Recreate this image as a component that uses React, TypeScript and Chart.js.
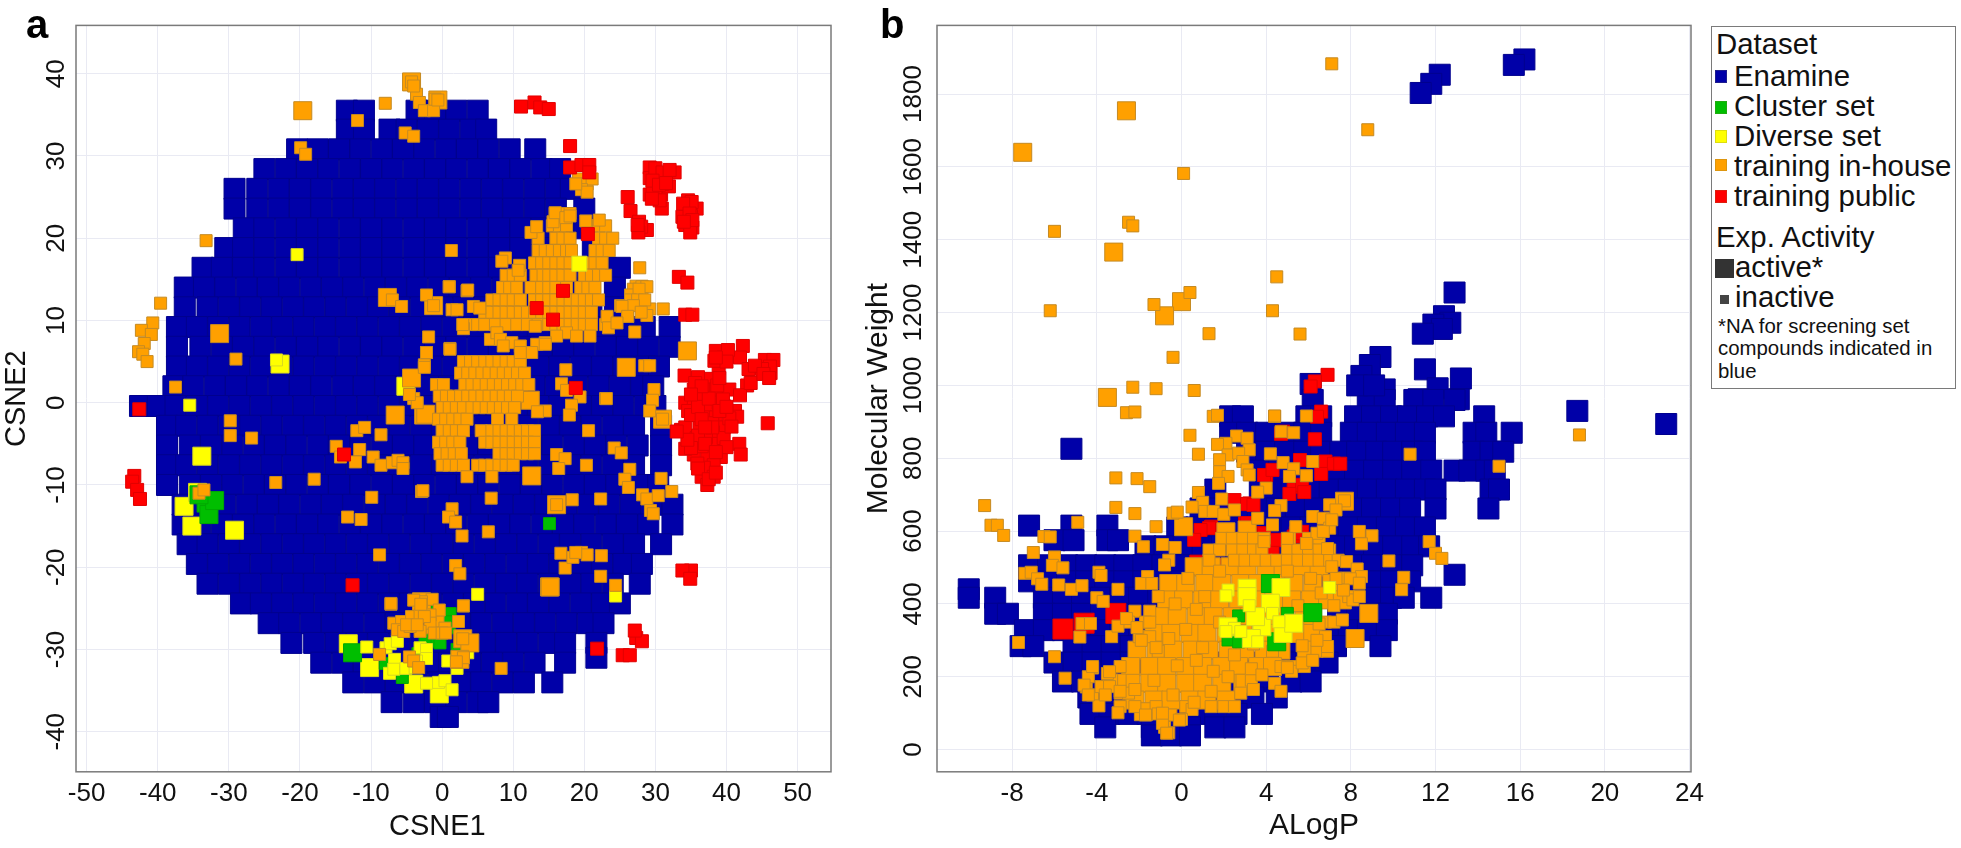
import React, { useEffect, useRef } from "react";
import { Chart, registerables } from "chart.js";
Chart.register(...registerables);

const FONT = '"Liberation Sans", Arial, sans-serif';
const BLUE = "#0000A8", GREEN = "#00BE00", YELLOW = "#FFFF00", ORANGE = "#FFA000", RED = "#FF0000";
const SIDE_ENAMINE = 21, SIDE_SMALL = 12, SIDE_LARGE = 18;

const aXTicks = [-50, -40, -30, -20, -10, 0, 10, 20, 30, 40, 50];
const aYTicks = [-40, -30, -20, -10, 0, 10, 20, 30, 40];
const bXTicks = [-8, -4, 0, 4, 8, 12, 16, 20, 24];
const bYTicks = [0, 200, 400, 600, 800, 1000, 1200, 1400, 1600, 1800];

// Each row: CSNE2 value, then the CSNE1 values read along it
const aEnamineRows = [
  [35.5, -13.4, -11, -3.6, -1, 2, 5],
  [33.2, -13.4, -11, -7.4, -5, -2, 1, 4, 6.2],
  [30.8, -20.4, -17.5, -14.5, -11.5, -8.5, -5.5, -2.5, 0.5, 3.5, 6.5, 9.5, 13.1],
  [28.4, -25, -22, -19, -16, -13, -10, -7, -4, -1, 2, 5, 8, 11, 14, 16.6],
  [26, -29.2, -26, -23, -20, -17, -14, -11, -8, -5, -2, 1, 4, 7, 10, 13, 16, 18.1],
  [23.6, -29.2, -26, -23, -20, -17, -14, -11, -8, -5, -2, 1, 4, 7, 10, 13, 16, 20],
  [21.2, -27.9, -25, -22, -19, -16, -13, -10, -7, -4, -1, 2, 5, 8, 11, 14, 17, 20],
  [18.8, -30.5, -28, -25, -22, -19, -16, -13, -10, -7, -4, -1, 2, 5, 8, 11, 14, 17, 21.2],
  [16.4, -33.7, -31, -28, -25, -22, -19, -16, -13, -10, -7, -4, -1, 2, 5, 8, 11, 14, 17, 20, 23, 25],
  [14, -36.2, -33.5, -30.5, -27.5, -24.5, -21.5, -18.5, -15.5, -12.5, -9.5, -6.5, -3.5, -0.5, 2.5, 5.5, 8.5, 11.5, 14.5, 17.5, 20.5, 24.3],
  [11.6, -36.2, -33, -30, -27, -24, -21, -18, -15, -12, -9, -6, -3, 0, 3, 6, 9, 12, 15, 18, 21, 24.3],
  [9.2, -37.3, -34.5, -31.5, -28.5, -25.5, -22.5, -19.5, -16.5, -13.5, -10.5, -7.5, -4.5, -1.5, 1.5, 4.5, 7.5, 10.5, 13.5, 16.5, 19.5, 22.5, 25.5, 28.5, 32],
  [6.8, -37.3, -34, -31, -28, -25, -22, -19, -16, -13, -10, -7, -4, -1, 2, 5, 8, 11, 14, 17, 20, 23, 26, 29, 32],
  [4.4, -37.3, -34.5, -31.5, -28.5, -25.5, -22.5, -19.5, -16.5, -13.5, -10.5, -7.5, -4.5, -1.5, 1.5, 4.5, 7.5, 10.5, 13.5, 16.5, 19.5, 22.5, 25.5, 28.5, 30.5],
  [2, -37.8, -35, -32, -29, -26, -23, -20, -17, -14, -11, -8, -5, -2, 1, 4, 7, 10, 13, 16, 19, 22, 25, 28, 29.7],
  [-0.4, -42.5, -40, -37.5, -34.5, -31.5, -28.5, -25.5, -22.5, -19.5, -16.5, -13.5, -10.5, -7.5, -4.5, -1.5, 1.5, 4.5, 7.5, 10.5, 13.5, 16.5, 19.5, 22.5, 25.5, 28.5, 30],
  [-2.8, -38.7, -36, -33, -30, -27, -24, -21, -18, -15, -12, -9, -6, -3, 0, 3, 6, 9, 12, 15, 18, 21, 24, 27, 30.8],
  [-5.2, -38.7, -35.5, -32.5, -29.5, -26.5, -23.5, -20.5, -17.5, -14.5, -11.5, -8.5, -5.5, -2.5, 0.5, 3.5, 6.5, 9.5, 12.5, 15.5, 18.5, 21.5, 24.5, 27.5, 30.8],
  [-7.6, -38.7, -36, -33, -30, -27, -24, -21, -18, -15, -12, -9, -6, -3, 0, 3, 6, 9, 12, 15, 18, 21, 24, 27, 30.8],
  [-10, -38.7, -35.5, -32.5, -29.5, -26.5, -23.5, -20.5, -17.5, -14.5, -11.5, -8.5, -5.5, -2.5, 0.5, 3.5, 6.5, 9.5, 12.5, 15.5, 18.5, 21.5, 24.5, 27.5, 30.4],
  [-12.4, -36.5, -33.5, -30.5, -27.5, -24.5, -21.5, -18.5, -15.5, -12.5, -9.5, -6.5, -3.5, -0.5, 2.5, 5.5, 8.5, 11.5, 14.5, 17.5, 20.5, 23.5, 26.5, 29.5, 32.4],
  [-14.8, -36.5, -34, -31, -28, -25, -22, -19, -16, -13, -10, -7, -4, -1, 2, 5, 8, 11, 14, 17, 20, 23, 26, 29, 32.4],
  [-17.2, -35.8, -33, -30, -27, -24, -21, -18, -15, -12, -9, -6, -3, 0, 3, 6, 9, 12, 15, 18, 21, 24, 27, 30.8],
  [-19.6, -34.5, -31.5, -28.5, -25.5, -22.5, -19.5, -16.5, -13.5, -10.5, -7.5, -4.5, -1.5, 1.5, 4.5, 7.5, 10.5, 13.5, 16.5, 19.5, 22.5, 25.5, 28.1],
  [-22, -33, -30, -27, -24, -21, -18, -15, -12, -9, -6, -3, 0, 3, 6, 9, 12, 15, 18, 21, 24, 27.8],
  [-24.4, -28.3, -25.5, -22.5, -19.5, -16.5, -13.5, -10.5, -7.5, -4.5, -1.5, 1.5, 4.5, 7.5, 10.5, 13.5, 16.5, 19.5, 22.5, 25],
  [-26.8, -24.4, -21.5, -18.5, -15.5, -12.5, -9.5, -6.5, -3.5, -0.5, 2.5, 5.5, 8.5, 11.5, 14.5, 17.5, 20.5, 22.7],
  [-29.2, -21.2, -18, -15, -12, -9, -6, -3, 0, 3, 6, 9, 12, 15, 17.3, 21.7],
  [-31, 21.7],
  [-31.6, -17, -14, -11, -8, -5, -2, 1, 4, 7, 10, 13, 17.3],
  [-34, -12.5, -9.5, -6.5, -3.5, -0.5, 2.5, 5.5, 8.5, 11.5, 15.5],
  [-36.4, -7.1, -4, -1, 2, 5, 6.5],
  [-38.2, -0.2, 0.8],
];

const aInHouseSmall = [
  -8, 36.4, -5.2, 32.8, -4, 32.4, -11.9, 34.3, -19.9, 31, -19.2, 30.2, -33.2, 19.7, -39.6, 12.1,
  -40.7, 9.7, -42.3, 8.8, -40.9, 8.3, -41.9, 7.2, -42.7, 6.2, -42.1, 5.9, -41.5, 5, -29, 5.3,
  -37.5, 1.9, -29.8, -2.2, -29.8, -4, -26.8, -4.3, -23.4, -9.7, -18, -9.3, -9.9, -11.5, -2.9, -10.8,
  -13.3, -13.9, -11.4, -14.2, -8.8, -18.5, -7.2, -24.5, 1, 14.1, 3.5, 13.6, -7, 12.5, -5.7, 11.7,
  -1.9, 8, -2.2, 6.1, -2.5, 4.6, 1.1, 6.6, -2.2, 13.1, -1.2, 11.8, 28.5, 4.5, 29.2, 4.5, 27.1, 8.6,
  27.8, 16.4, 23, 0.5, -3.6, 37.5, -3.2, 36.5, -2.5, 35.5, -1.2, 35.5, -1, 36.9, -4.3, 39, -4, 38.5,
  -0.6, 36.8, 19.2, 27.2, 20.4, 26.6, 21.1, 27.2, 19.6, 25.9, 20.4, 25.6, 18.8, 26.6,
  26.9, 13.8, 28.1, 14.1, 27.7, 13.1, 28.5, 11.1, 29.2, 11.4, 31.1, 11.4, 26.5, 13.1, 28.8, 14.1,
  25.1, 11.8, 26.1, 10.5, 28.8, 10.6, 27.7, 13.8, 26.5, 12.5, 27.5, 12.5, 28.5, 12.5, 26.9, 11.8, 28, 11,
  29.8, 1.6, 29.6, 0.3, 29.2, -1, 31, -2, -4, 0.5, -3.5, 0, -4.6, 1,
  -14.9, -5.3, -14.3, -6.6, -12, -3.4, -10.9, -3, -11.6, -5.7, -9.7, -6.6, -8.6, -7.6, -7, -7.3,
  -6.2, -7, -5.5, -7.3, -5.5, -8, -8.6, -3.9, -12.2, -7.2, -34.2, -11, -33.5, -10.6,
  12.5, 20.7, 13.3, 21.4, 15.6, 22, 15.9, 23.1, 17.4, 22.5, 18, 22.7, 20.2, 22.1, 22.1, 22.2,
  8.9, 17.6, 8.4, 17.2, 10.9, 16.7, 10.7, 16.1, 1.3, 18.5,
  1.4, 11.3, 2.1, 11.3, 4.4, 11.7, 5.3, 11.5, 3, 9, 2.9, 9.5, 1, 14.1, 3.6, 13.7, 25.3, 11.7, 26.1, 10.5,
  23.2, 10.5, 23.4, 9.1, 24.6, 9.7, 6.8, 7.7, 7.7, 8.5, 8.2, 7.7, 9.8, 7.3, 11, 6.9, 8.6, 6.9, 13.1, 9.3,
  17.5, 8.5, 20.8, 8.1, 18.9, 8.1, 16.1, 8.1, 14.5, 7.3, 13.3, 7.1,
  -2.2, 6.1, 1.1, 6.5, -2.5, 4.3, 14.5, 7.1, 12.6, 6.1, 11, 6.1,
  14.5, -1, 13.4, -1.1, 17.4, 4, 16.8, 2.3, 17.5, 1.5, 19.4, 0.7, 18.2, -0.3, 17.9, -1.5, 23.1, 0.5, 20.6, -3.4, 24.2, -5.5, 25.2, -6.1,
  16.1, -6.3, 17.3, -6.8, 16.4, -8, 20.3, -7.6, 26.4, -8.1, 25.7, -9.3, 26.2, -10.3, 30.8, -9.2, 28.2, -11.2, 28.8, -11.7,
  30.4, -11.3, 29.3, -13.1, 29.7, -13.5, 32.3, -10.8, 18.3, -11.8, 22.3, -11.7, 1.4, -12.9, 0.9, -13.9, 1.9, -14.5,
  -2.7, -10.7, 6.9, -11.6, 2.8, -16.2, 6.5, -15.7, 16.7, -18.3, 17.3, -20.1, 18.4, -18.8, 19.6, -18.2, 20.4, -18.5, 18.8, -18.2,
  22.4, -18.6, 22.3, -21.1, 24.4, -22.2, 1.9, -19.8, 2.5, -20.8, 3, -24.7, 8.3, -32.3, 16.1, -12.4,
  -7.2, -24.4, -1.4, -23.9, -0.4, -25.2, 3, -24.7, 2.3, -26.6, -6.8, -26.8, -5.7, -26.6, -6.3, -27.6, -4.3, -26, -3.1, -25.8,
  -1.7, -25.8, -1.7, -26.8, -3.1, -27.8, -1.1, -28, 0.4, -27.4, -5.4, -27.8, -4.5, -27.2, -8.8, -30.6, -4.6, -30.9, -4, -31.4,
  -3.3, -32.2, -2.9, -24.2, 2.9, -28.7, -4, -24, -3, -24.5, -2.5, -26, -5, -27, -3.5, -27, 0, -28, 0.5, -28, 3, -31, 2, -31.5,
];
// Packed parts of the in-house clusters, read row by row: CSNE2, then CSNE1 values
const aInHouseDenseRows = [
  [23, 15.9, 17.4, 18],
  [21.5, 15.5, 16.5, 17.5, 20.5, 21, 22, 23],
  [20, 13.5, 16, 17, 18, 22, 23, 24],
  [18.5, 13.5, 14.5, 15.5, 16.5, 17.5, 18.2, 21.5, 22.5, 23.5],
  [17, 13, 14, 15, 16, 17, 18, 20.5, 21.5, 22.5],
  [15.5, 9, 10, 11, 13.2, 14.2, 15, 16, 17, 18, 20, 21, 22, 23],
  [14, 8.5, 9.5, 10.5, 12.5, 14, 15, 16, 17.5, 19.5, 20.5, 21.5],
  [12.5, 7, 8, 9, 10, 11, 13, 14, 15, 16, 17, 18, 19, 20, 21, 22],
  [11, 6, 7, 8, 9, 10, 11, 12, 13, 14, 15, 16, 17, 18, 19, 20, 21],
  [9.5, 4, 5, 6, 7.5, 9, 10.5, 12, 13.5, 15, 16, 17, 18, 19, 20, 21, 23],
  [5, 3, 4, 5, 6, 7, 8, 9, 10, 11],
  [3.6, 2.6, 3.6, 4.6, 5.6, 6.6, 7.6, 8.6, 9.6, 10.6, 11.6],
  [2.2, -0.8, 0.2, 3.2, 4.2, 5.2, 6.2, 7.2, 8.2, 9.2, 10.2, 11.2, 12.2],
  [0.8, -0.4, 0.6, 1.6, 2.6, 3.6, 4.6, 5.6, 6.6, 7.6, 8.6, 9.6, 10.6],
  [-0.6, 0, 1, 2, 3, 4.2, 5.2, 6.2, 7.2, 8.2, 9.2, 10.2],
  [-2, -0.5, 0.5, 1.5, 2.5, 3.5, 7.8, 9.8],
  [-3.4, 0, 1, 2, 3, 5.5, 7, 8, 9, 10, 11, 12, 13],
  [-4.8, -0.5, 0.5, 1.5, 2.5, 6, 7, 8, 9, 10, 11, 12, 13],
  [-6.2, -0.3, 0.7, 1.7, 2.7, 8, 9, 10, 11, 12, 13],
  [-7.6, 0, 1, 2, 3, 5, 6, 7, 8, 9, 10],
  [-9, 3.5, 7],
];
const aInHouseLarge = [
  -19.6, 35.5, -31.3, 8.4, -7.7, 12.8, -1.2, 11.8, -4.3, 3, -6.6, -1.5, -2.6, -1.5, 25.9, 4.3, 34.5, 6.3,
  31, -2, 16.1, -12.4, 15.1, -22.4, 12.6, -8.9, 12.4, 0.3, -2.3, -1.4, -4.3, 39, -0.6, 36.8, 27.7, 13.8,
  -2.9, -24.2, 2.9, -28.7, 3.9, -29.2, 2.5, -31.2, -1, -27, 15.2, -22.4,
];
const aDiverseSmall = [
  -20.4, 18, -23.3, 5.2, -35.5, -0.3, 5, -23.3, -10.6, -29.7, -7.9, -29.8, -7.3, -29.3, -6.3, -29, -6.7, -31.2,
  -7.4, -32.9, -6.8, -32.4, -5.1, -32.3, -3.8, -32.2, -2.2, -34.1, -0.5, -34, 0.4, -33.8, 1.4, -34.9, 3.6, -30.4,
  0.8, -31.4, 2.1, -32.3, -3.1, -29.8, -2.2, -30, -2.2, -31.1, -3.6, -31.4, 24.4, -23.5,
];
const aDiverseLarge = [-22.8, 4.7, -33.8, -6.5, -36.3, -12.6, -35.2, -15, -29.2, -15.5, -34.4, -10.9, -13.2, -29.3, -10.2, -32.2, -4, -34.2, -0.4, -35.4, -5.1, 2];
const aDiverseOnTop = [19.3, 16.9];
const aClusterSmall = [15.1, -14.7, -8, -31.7, -5.6, -33.4, -3.4, -30.5, -1.2, -29, -0.3, -29.2, -2.4, -28.8, -1.7, -25.4, 2.1, -30];
const aClusterLarge = [-33.2, -12.2, -32.8, -13.6, -32, -11.9, -34.2, -11.2, -12.6, -30.4, 0.7, -26, 0.6, -27];
const aPublicSmall = [
  11.1, 36, 13, 36.5, 13.8, 35.9, 15, 35.7, 18, 31.2, 18, 28.6, 19.6, 28.9, 20.7, 28.9, 20.7, 28, 20.5, 20.5,
  29.2, 28.6, 29.2, 27.3, 30.4, 27.6, 31.5, 27.6, 32.7, 28, 29.2, 25.3, 30.8, 25.3, 31.9, 26.3, 30, 25.9, 30.9, 23.6,
  26.1, 25, 26.5, 23.3, 27.7, 22, 28.1, 21, 28.8, 21, 34.6, 24.6, 35.8, 23.6, 34.2, 23.3, 34.2, 21.6, 35.2, 21.3, 33.8, 22.6,
  33.3, 15.3, 34.5, 14.6, 34.2, 10.7, 35.2, 10.7, 38.5, 6.3, 39.6, 5.5, 38.9, 4.2, 42.3, 6.9, 41.9, 5.5, 43.1, 4.1,
  45.4, 5.2, 46.6, 5.2, 46.2, 3.6, 42.9, 2.1, 34.1, 3.3, 34.2, 0, 37.3, 2.9, 33.6, -3.3, 35.4, 1.6, 36.9, 1.6, 38.9, 0.9,
  40.4, 1.6, 41.9, 0.9, 41.2, -1, 41.5, -1.7, 35.4, 0, 36.9, -1, 38.5, -1.7, 39.6, -3, 38.1, -3.6, 36.2, -3, 34.2, -3,
  35.4, -6.3, 37.3, -6.6, 39.2, -6.6, 36.5, -9, 37.7, -8.3, 37.3, -10, 41.8, -5, 42, -6.3, 45.8, -2.5, 35.8, -4.3, 38.1, -5,
  34.2, -5.6, 36.5, -5.3, 39.6, -4.3, 38.5, 1.6, 39.6, -0.4, -43.3, -8.9, -43.6, -9.6, -42.9, -10.6, -42.5, -11.7, -42.6, -0.8,
  -13.8, -6.3, -12.6, -22.2, 21.8, -29.9, 18.8, 1.8, 13.3, 11.5, 15.6, 10.1, 17, 13.6, 35, -20.4, 33.8, -20.4, 34.9, -21.4,
  27.3, -28.6, 28.1, -29, 27.1, -27.7, 25.4, -30.7, 26.4, -30.7,
  30, 27.2, 31, 26.6, 30.6, 24.6, 29.6, 26.2, 35, 22.7, 35.1, 24.4, 33.9, 24.2, 34.9, 20.7, 36.7, 0.6, 37.6, -0.2, 35.7, -1.5,
  37.6, -2.6, 40.4, -1.9, 38.9, 0, 37.1, -4.2, 35.2, -4.6, 38.2, -7.6, 36.8, -7.9, 34.6, -1, 36, 3.1, 35.6, 2.4, 38.7, 2.1,
  39.5, 0.4, 40.7, -2.9, 40, -5.4, 35.9, -7.4, 38.2, -9, 43.4, 2.4, 38.3, 5.1, 40.2, 6.4, 46.1, 4.4, 45, 4.1,
  35, -1.5, 36, -0.5, 37.5, 0.5, 38, -2.5, 36, -4, 37, -5, 38.5, -6, 35, -5.5, 36.5, 2, 35, 1, 39, -1, 40, -0.5, 38, -3, 36.5, -2, 37, -3,
  34.5, -4.5, 33, -3.5, 36, -8, 37.5, -9.3, 38.5, -8.5, 39, 3, 40, 5, 38.5, 5.5, 44, 4.5, 45.2, 3.5, 46, 3,
  30, 28.5, 31, 28, 29.6, 27, 30.5, 26.5, 31.5, 26.7, 32, 28.3, 29.5, 24.8, 34.8, 23, 35.2, 22.2, 34, 22, 28, 21.4, 27.6, 20.7, 27.5, 21.6,
];

// Each row: molecular weight, then the ALogP values read along it
const bEnamineRows = [
  [1895, 16.2], [1880, 15.7], [1853, 12.2], [1828, 11.8], [1803, 11.3], [1255, 12.9], [1190, 12.4], [1172, 12.7], [1167, 11.9],
  [1155, 12.3], [1142, 11.4], [1078, 9.4], [1056, 8.9], [1044, 11.5], [1026, 8.5], [1019, 13.2], [1004, 6.1], [996, 8.9],
  [992, 12.1], [989, 9.6], [962, 11.2, 13.1], [960, 6.2, 8.8, 9.6, 11, 11.9, 12.9], [1000, 8.3, 9.1], [930, 18.7], [894, 22.9], [826, -5.2], [480, 12.9],
  [915, 2.3, 2.9, 5.9, 6.6, 8.2, 9, 9.9, 10.7, 11.6, 12.4, 14.3],
  [870, 2.3, 3.1, 4, 4.9, 5.8, 6.6, 8, 8.8, 9.7, 10.6, 11.5, 13.8, 14.4, 15.6],
  [818, 3.1, 4, 4.9, 5.8, 6.6, 7.5, 8.3, 9.2, 10, 10.9, 11.5, 13.8, 14.6, 15.2],
  [766, 3.7, 4.6, 5.5, 6.4, 7.3, 8.2, 9.1, 10, 10.9, 11.8, 12.9, 13.6, 14.4, 14.8],
  [714, 1.6, 3.7, 4.3, 5.2, 6.1, 7, 7.9, 8.8, 9.7, 10.6, 11.5, 12, 14.6, 15],
  [662, 0.9, 1.8, 2.7, 3.6, 4.5, 5.4, 6.3, 7.2, 8.1, 9, 9.9, 10.8, 12, 14.5],
  [615, -7.2, -5.2, -3.5],
  [610, -0.2, 0.7, 1.6, 2.5, 3.4, 4.3, 5.2, 6.1, 7, 7.9, 8.8, 9.7, 10.6, 11.5],
  [575, -6, -5.1, -3.5, -3],
  [558, -1.7, -0.8, 0.1, 1, 1.9, 2.8, 3.7, 4.6, 5.5, 6.4, 7.3, 8.2, 9.1, 10, 10.9, 11.7],
  [506, -7.2, -6.3, -5.4, -4.5, -3.6, -2.7, -1.8, -0.9, 0, 0.9, 1.8, 7.2, 8.1, 9, 9.9, 10.9],
  [462, -7.2, -6.3, -5.4, -4.5, -3.6, -2.7, -1.8, -0.9, 0, 6.3, 7.2, 8.1, 9, 9.9, 10.8],
  [440, -10.05],
  [417, -10.05, -8.8, -6.5, -5.6, -4.7, -3.8, -2.9, -2, -1.1, 7.2, 8.1, 9, 9.9, 10.5, 11.8],
  [373, -8.8, -8.2, -6.5, -5.6, -4.7, -3.8, -2.9, -2, 7.4, 8.3, 9.2, 9.7],
  [328, -7.4, -6.5, -5.6, -4.7, -3.8, -2.9, -2, 7, 7.9, 8.8, 9.7],
  [284, -7.6, -7, -5.1, -4.2, -3.3, -2.4, 5, 6.2, 7.3, 9.4],
  [239, -6, -5.1, -4.2, -3.3, -2.4, 2, 3, 4, 5, 5.9, 6.9],
  [187, -5.6, -4.7, -3.8, -2.9, 2.6, 3.3, 4.1, 5.2, 6.1],
  [143, -4.4, -3.5, -2.6, 2, 2.7, 3.4, 4.5],
  [98, -4.3, -3.4, -2.5, -1.6, -0.7, 0.2, 1, 1.6, 2.6, 3.8],
  [61, -3.6, -1.4, -0.5, 0.4, 1.6, 2.5],
  [39, -1.4, -0.5, 0.4],
];
const bInHouseLargeRows = [
  [502, 0.6, 1.4, 2.3, 3.1, 4, 4.8, 5.7, 6.5],
  [456, -0.6, 0.2, 1.1, 1.9, 2.8, 3.6, 4.5, 5.3, 6.2, 7.1],
  [411, -0.7, 0.1, 1, 1.8, 2.7, 3.5, 4.4, 5.2, 6.1, 6.9, 7.6],
  [365, -1, -0.2, 0.7, 1.5, 2.4, 3.2, 4.1, 4.9, 5.8, 6.2],
  [319, -1.3, -0.5, 0.4, 1.2, 2.1, 2.9, 3.8, 4.6, 5.5, 6.2],
  [273, -2.1, -1.2, -0.4, 0.5, 1.3, 2.2, 3, 3.9, 4.7, 5.9],
  [228, -2.4, -1.5, -0.7, 0.2, 1, 1.9, 2.7, 3.6, 4.3],
  [182, -2.4, -1.5, -0.7, 0.2, 1, 1.9, 2.9, 3],
  [136, -2.2, -1.3, -0.5, 0.4, 1.2, 2.1],
];
// Small in-house squares along the packed area's rim: weight, then ALogP values
const bInHouseRimRows = [
  [580, 1.9, 2.4, 2.9, 3.4, 3.9, 5.1, 6, 6.5],
  [548, 1.3, 1.8, 2.4, 2.9, 3.4, 3.8, 5, 5.5, 6, 6.5, 7],
  [520, 1.3, 2.5, 3, 3.5, 4, 4.5, 5, 5.5, 6, 6.5, 7, 7.4],
  [420, -1.1, 7.9],
  [380, -2.2, -1.5],
  [350, -1.7, -2.5, 6.8, 7.2],
  [310, -2, -1.5],
  [270, -1.1, 6.4, 6.9],
  [228, -2.9, 4.7, 5.2, 5.8],
  [215, 5.2],
  [191, -2.9, -3.3, 3.3],
  [165, 3.4],
  [155, -2.9, -2.5, 2.8],
  [118, -2.9, -2.2, -1.2, 0.2, 1.4, 2, 2.5],
  [110, 0.5],
  [95, -0.5],
];
const bInHouseLarge = [
  -7.5, 1640, -2.6, 1754, -3.2, 1366, 0, 1230, -0.8, 1191, -3.5, 967, 8.85, 374, 8.2, 305, 7.7, 682, -1.8, 104, 3.1, 603, 2.1, 598, 0.1, 612,
];
const bInHouseSmall = [
  7.1, 1883, 8.8, 1702, 0.1, 1582, -6, 1423, -2.5, 1448, -2.3, 1438, 4.5, 1298, 0.4, 1255, -6.2, 1205, -1.3, 1222, 4.3, 1205, 1.3, 1142,
  5.6, 1141, -0.4, 1077, -2.3, 995, -1.2, 991, 0.6, 986, -2.6, 925, -2.2, 927, 1.5, 915, 1.7, 918, 4.4, 915, 18.8, 864, 15, 778, 10.8, 811,
  0.4, 863, 0.8, 811, -3.1, 746, -2.1, 744, -1.5, 722, -3.1, 665, -2.2, 648, -9.3, 670, -9, 616, -8.7, 616, -8.4, 588, -6.5, 585, -6.2, 584,
  -7, 541, -4.9, 624, -7.4, 484, -7.1, 487, -6.8, 469, -6.6, 454, -6, 529, -6.1, 506, -5.6, 499, -5.8, 452, -5.2, 440, -4.7, 450, -3.9, 487,
  -3.8, 478, -4, 417, -3.7, 407, -3, 440, -7.7, 294, -6, 255, -5.5, 196, -4.8, 309, -4.7, 346, -4.3, 346, -3.3, 310, -3, 339, -4.2, 224,
  -3.5, 209, -4.5, 172, -4.2, 150, -3.9, 120, -3, 101, -1.7, 95, -0.8, 61, -0.6, 46, 0, 83, -1.1, 98,
  2.6, 861, 3.1, 855, 3.2, 823, 2.1, 841, 1.7, 838, 2.2, 809, 2.7, 814, 2.9, 791, 1.8, 796, 1.8, 763, 2.2, 750, 3.1, 768, 3.2, 754, 1.75, 731,
  4.7, 873, 5.3, 870, 4.4, 916, 5.9, 916, 4.2, 812, 4.8, 788, 6.2, 791, 5.3, 771, 5.1, 750, 5.9, 752, 4, 718, 3.6, 707, 7.7, 683,
  7, 672, 7.3, 658, 6.2, 640, 6.7, 635, 7, 608, 6.4, 594, 6.7, 599, 7.1, 631, 4.7, 670, 4.4, 656, 4.3, 617, 5.4, 612, 3.6, 635,
  0.8, 706, 1, 679, 0.5, 666, 1.1, 654, 1.5, 654, 1.9, 688, 2, 646, 2.5, 658, -0.4, 649, -0.2, 652, -1.2, 612,
  8.4, 599, 9, 587, 8.5, 565, 7.8, 516, 9.8, 518, 8.3, 496, 8.5, 475, 7.7, 471, 7.97, 469, 8.4, 457, 10.5, 473, 10.4, 439, 11.7, 571, 12, 539, 12.3, 525,
  -2.2, 586, -1.8, 557, -0.9, 563, -0.3, 555, -0.6, 520, -0.8, 507, -1.6, 475, -1.9, 456, -1.4, 456,
  3.9, 571, 5, 580, 5.9, 566, 7.1, 502, 6.9, 552, 8.1, 411, 8.4, 420, 7.65, 438, 7.6, 356, 6.8, 310, 6.9, 283,
  -4.4, 200, -4.6, 177, -3.8, 173, -3.4, 173, -3.6, 150, -4.4, 150, -3.4, 214, -4.2, 228,
  -0.9, 72, -0.7, 45, -0.1, 81, -0.9, 100, 3.3, 222, 3.8, 205, 4.4, 182, 4.7, 160, 5, 225, 5.7, 238, 6.2, 245,
  -2.9, 160, -2.2, 165, -1.3, 190, -0.4, 150, 0.6, 130, 1.4, 160, 2.2, 200, -0.2, 230, 0.7, 245, 1.5, 215, 2.5, 260, 3.4, 290, 4.3, 270,
  -2.6, 360, -2.1, 335, -1.5, 350, -0.6, 305, 0.2, 330, 1, 280, 1.8, 350, 1.1, 420, 0.3, 470, 1.8, 490, 5.5, 395, 6.6, 430, 6.1, 470, 5, 490,
  -1.9, 300, -1.2, 280, -0.3, 400, 0.7, 385, 7.2, 395, 6.5, 345, 6.4, 300, 5.7, 285, 7.3, 470,
];
const bDiverseLarge = [3.1, 443, 4.7, 445, 4.2, 402, 3.1, 420, 3.8, 337, 2.2, 337, 4.8, 319, 5.3, 347, 3.3, 305, 3.5, 365];
const bDiverseSmall = [2.2, 438, 2.1, 422, 7, 445, 2.5, 333, 2.1, 324, 3.2, 395, 4.3, 374, 4.6, 351, 2.8, 324, 3.6, 296];
const bClusterLarge = [4.2, 456, 6.2, 376, 4.5, 296];
const bClusterSmall = [2.2, 301, 2.7, 367, 2.7, 296, 5, 374];
const bPublicLarge = [-5.6, 331, -4.6, 347, -3.1, 374];
const bPublicSmall = [
  0.7, 516, 1.4, 612, 2.2, 502, 2, 502, 3.2, 676, 2.5, 685, 4, 754, 4.3, 548, 4.7, 575, 5.3, 585, 5.7, 598, 3.6, 594, 3, 557, 3, 621, 6.4, 493,
  6.9, 1029, 6.3, 1011, 6.1, 997, 6.6, 928, 6.4, 914, 6.3, 852, 4.8, 873, 4.7, 867, 5.6, 795, 6.8, 791, 7.2, 785, 7.5, 785, 6.6, 757, 3.9, 754,
  4.3, 768, 5.3, 722, 5.7, 727, 5.1, 702, 5.8, 707, 3.1, 674, 3.4, 672, 1.3, 608, 0.9, 603, 3.1, 622, 4.5, 576, 3.9, 594, 5.4, 594, 0.6, 576, 1.8, 507,
];

const pairs = (flat: number[]) => {
  const out: { x: number; y: number }[] = [];
  for (let i = 0; i + 1 < flat.length; i += 2) out.push({ x: flat[i], y: flat[i + 1] });
  return out;
};
const fromRows = (rows: number[][]) => rows.flatMap(([y, ...xs]) => xs.map((x) => ({ x, y })));

const squares = (data: { x: number; y: number }[], color: string, side: number, edge: string) => ({
  data,
  pointStyle: "rect",
  pointRadius: side / Math.SQRT2,
  pointHoverRadius: side / Math.SQRT2,
  backgroundColor: color,
  borderColor: edge,
  pointBorderWidth: 1,
  showLine: false,
});
const EDGE_BLUE = "#00008E", EDGE_ORANGE = "#C58A22", EDGE_RED = "#E00000", EDGE_YELLOW = "#D8D820", EDGE_GREEN = "#00A800";

const boxPlugin = {
  id: "box",
  afterDraw(chart: any) {
    const { ctx, chartArea: c } = chart;
    ctx.save();
    ctx.strokeStyle = "#7a7a7a";
    ctx.lineWidth = 1.5;
    ctx.strokeRect(c.left, c.top, c.right - c.left, c.bottom - c.top);
    ctx.restore();
  },
};

const axisOptions = (
  horizontal: boolean,
  min: number,
  max: number,
  ticks: number[],
  title: string,
  size: number,
  thickness: number,
  tickPadding: number,
  titlePadding: any,
) => ({
  type: "linear",
  min,
  max,
  afterBuildTicks: (s: any) => {
    s.ticks = ticks.map((value) => ({ value }));
  },
  afterFit: (s: any) => {
    if (horizontal) s.height = thickness;
    else s.width = thickness;
  },
  grid: { color: "#E9EAF3", lineWidth: 1, drawTicks: false },
  border: { display: false },
  ticks: {
    autoSkip: false,
    color: "#111",
    padding: tickPadding,
    font: { family: FONT, size: 26 },
    ...(horizontal ? { maxRotation: 0 } : { minRotation: 90, maxRotation: 90, crossAlign: "center" }),
    callback: (v: any) => String(v),
  },
  title: { display: true, text: title, color: "#111", padding: titlePadding, font: { family: FONT, size } },
});

// Chart.js paints the first dataset last, so each list is given back-to-front and reversed.
const makeConfig = (backToFront: any[], padding: any, x: any, y: any): any => ({
  type: "scatter",
  data: { datasets: [...backToFront].reverse() },
  plugins: [boxPlugin],
  options: {
    responsive: false,
    animation: false,
    devicePixelRatio: 1,
    layout: { padding },
    plugins: { legend: { display: false }, tooltip: { enabled: false } },
    scales: { x, y },
  },
});

const legendRows = [
  { label: "Enamine", color: BLUE, top: 70, y: 76 },
  { label: "Cluster set", color: GREEN, top: 101, y: 106 },
  { label: "Diverse set", color: YELLOW, top: 130, y: 136 },
  { label: "training in-house", color: ORANGE, top: 158.5, y: 166 },
  { label: "training public", color: RED, top: 190, y: 196 },
];
const noteLines = ["*NA for screening set", "compounds indicated in", "blue"];

const txt = (left: number, cy: number, size: number, s: string, extra: any = {}) => (
  <div
    key={s}
    style={{ position: "absolute", left, top: cy - size * 0.6, height: size * 1.2, lineHeight: `${size * 1.2}px`, fontSize: size, fontFamily: FONT, color: "#111", whiteSpace: "nowrap", ...extra }}
  >
    {s}
  </div>
);
const swatch = (left: number, top: number, side: number, color: string, border = "1px solid rgba(120,120,60,0.25)") => (
  <div key={`${left}-${top}`} style={{ position: "absolute", left, top, width: side, height: side, background: color, border, boxSizing: "border-box" }} />
);

export default function App() {
  const aRef = useRef<HTMLCanvasElement>(null);
  const bRef = useRef<HTMLCanvasElement>(null);

  useEffect(() => {
    document.body.style.margin = "0";
    const a = new Chart(
      aRef.current!,
      makeConfig(
        [
          squares(fromRows(aEnamineRows), BLUE, SIDE_ENAMINE, EDGE_BLUE),
          squares(pairs(aDiverseLarge), YELLOW, SIDE_LARGE, EDGE_YELLOW),
          squares(pairs(aClusterLarge), GREEN, SIDE_LARGE, EDGE_GREEN),
          squares(pairs(aClusterSmall), GREEN, SIDE_SMALL, EDGE_GREEN),
          squares(pairs(aDiverseSmall), YELLOW, SIDE_SMALL, EDGE_YELLOW),
          squares(pairs(aInHouseLarge), ORANGE, SIDE_LARGE, EDGE_ORANGE),
          squares(fromRows(aInHouseDenseRows), ORANGE, SIDE_SMALL, EDGE_ORANGE),
          squares(pairs(aInHouseSmall), ORANGE, SIDE_SMALL, EDGE_ORANGE),
          squares(pairs(aPublicSmall), RED, SIDE_SMALL + 1, EDGE_RED),
          squares(pairs(aDiverseOnTop), YELLOW, 15, EDGE_YELLOW),
        ],
        { left: 0, top: 25.4, right: 29, bottom: 0 },
        axisOptions(true, -51.5, 54.7, aXTicks, "CSNE1    ", 29, 76.2, 6, { top: 0, bottom: 4 }),
        axisOptions(false, -44.87, 45.87, aYTicks, "CSNE2", 29, 76, 0, { top: 0, bottom: 0 }),
      ),
    );
    const b = new Chart(
      bRef.current!,
      makeConfig(
        [
          squares(fromRows(bEnamineRows), BLUE, SIDE_ENAMINE, EDGE_BLUE),
          squares(pairs(bPublicLarge), RED, SIDE_LARGE + 2, EDGE_RED),
          squares(pairs(bPublicSmall), RED, SIDE_SMALL + 1, EDGE_RED),
          squares(fromRows(bInHouseLargeRows), ORANGE, SIDE_LARGE, EDGE_ORANGE),
          squares(pairs(bInHouseLarge), ORANGE, SIDE_LARGE, EDGE_ORANGE),
          squares(fromRows(bInHouseRimRows), ORANGE, SIDE_SMALL, EDGE_ORANGE),
          squares(pairs(bInHouseSmall), ORANGE, SIDE_SMALL, EDGE_ORANGE),
          squares(pairs(bClusterLarge), GREEN, SIDE_LARGE, EDGE_GREEN),
          squares(pairs(bClusterSmall), GREEN, SIDE_SMALL, EDGE_GREEN),
          squares(pairs(bDiverseLarge), YELLOW, SIDE_LARGE, EDGE_YELLOW),
          squares(pairs(bDiverseSmall), YELLOW, SIDE_SMALL, EDGE_YELLOW),
        ],
        { left: 0, top: 25.4, right: 69, bottom: 0 },
        axisOptions(true, -11.55, 24.07, bXTicks, "ALogP", 30, 76.2, 6, { top: 0, bottom: 4 }),
        axisOptions(false, -61, 1988.5, bYTicks, "Molecular Weight", 30, 77, -6, { top: 1, bottom: 0 }),
      ),
    );
    return () => {
      a.destroy();
      b.destroy();
    };
  }, []);

  return (
    <div style={{ position: "absolute", left: 0, top: 0, width: 1961, height: 848, background: "#fff", overflow: "hidden" }}>
      <canvas ref={aRef} width={860} height={848} style={{ position: "absolute", left: 0, top: 0 }} />
      <canvas ref={bRef} width={900} height={848} style={{ position: "absolute", left: 860, top: 0 }} />
      {txt(26, 24, 40, "a", { fontWeight: 700, color: "#000" })}
      {txt(880, 24, 40, "b", { fontWeight: 700, color: "#000" })}
      <div style={{ position: "absolute", left: 1711, top: 25.5, width: 243, height: 361, border: "1.5px solid #7a7a7a", background: "#fff", boxSizing: "content-box" }} />
      {txt(1716, 44, 29.4, "Dataset")}
      {legendRows.map((r) => swatch(1714.5, r.top, 12.5, r.color))}
      {legendRows.map((r) => txt(1734, r.y, 29.4, r.label))}
      {txt(1716, 237, 29.4, "Exp. Activity")}
      {swatch(1715, 259, 18.5, "#333", "none")}
      {txt(1735, 267, 29.4, "active*")}
      {swatch(1720, 295, 8.5, "#444", "none")}
      {txt(1735, 297, 29.4, "inactive")}
      {noteLines.map((s, i) => txt(1718, 326 + i * 22.6, 20.4, s))}
    </div>
  );
}
